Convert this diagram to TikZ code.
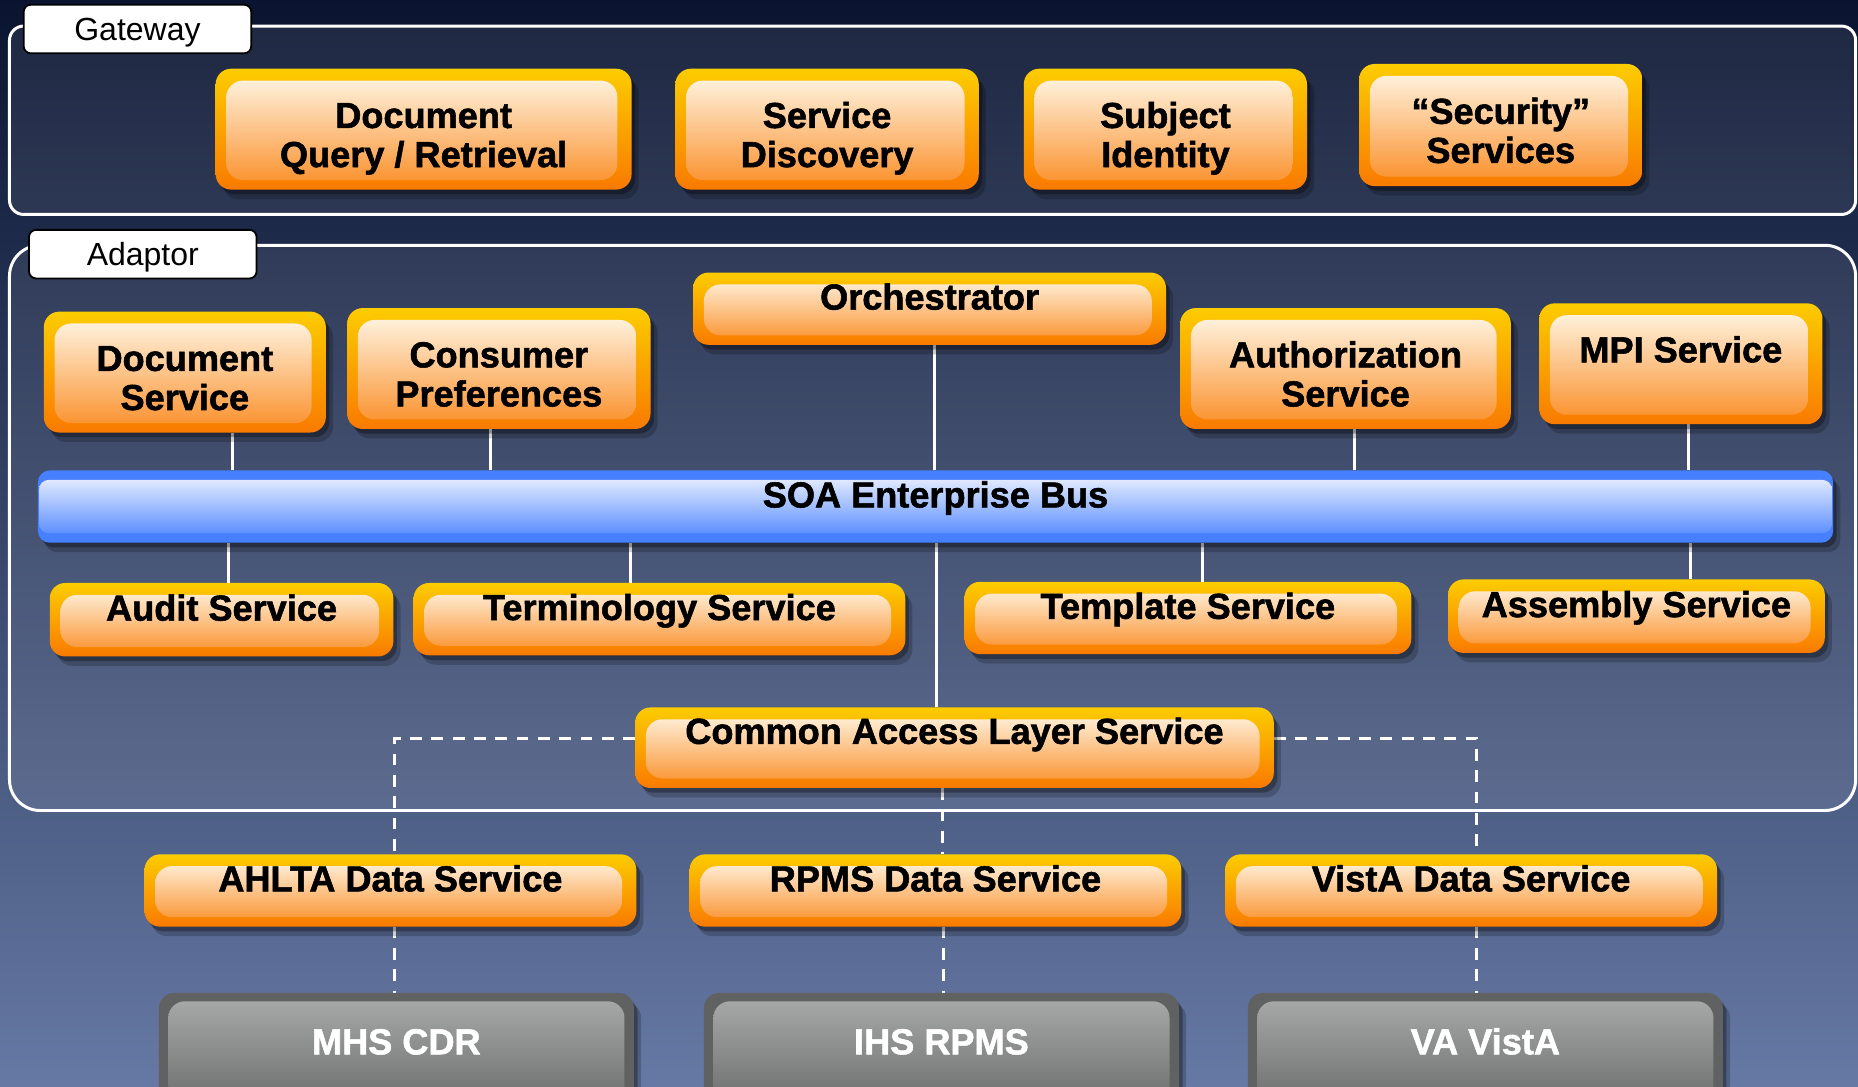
\documentclass[tikz,border=0pt]{standalone}
\usepackage{fontspec}
\setmainfont{Liberation Sans}[BoldFeatures={FakeBold=1.5}]
\usetikzlibrary{shadows}

\definecolor{navytop}{RGB}{10,20,48}
\definecolor{navymid}{RGB}{46,68,115}
\definecolor{navybot}{RGB}{102,121,164}
\definecolor{boxyellow}{RGB}{252,204,0}
\definecolor{boxorange}{RGB}{249,122,0}
\definecolor{glowtop}{RGB}{255,251,238}
\definecolor{glowmid}{RGB}{252,212,140}
\definecolor{glowbot}{RGB}{250,140,36}
\definecolor{busblue}{RGB}{70,128,255}
\definecolor{busglow}{RGB}{246,248,255}
\definecolor{legacydark}{RGB}{96,97,97}
\definecolor{legacytop}{RGB}{170,171,171}
\definecolor{legacybot}{RGB}{104,105,105}

\newcommand{\twolines}[2]{\rule{0pt}{31pt}#1\\\smash{#2}}

\pgfdeclarelayer{bg}
\pgfdeclarelayer{wires}
\pgfsetlayers{bg,wires,main}

\tikzset{
  svc/.style={rounded corners=13pt, inner sep=0pt, outer sep=0pt, align=center,
    font=\bfseries\fontsize{30.5}{33}\selectfont,
    drop shadow={shadow xshift=3pt, shadow yshift=-4pt, opacity=0.3, fill=black},
    drop shadow={shadow xshift=6pt, shadow yshift=-8pt, opacity=0.2, fill=black}},
  oneline/.style={text height=22pt, text depth=#1},
  oneline/.default=20.5pt,
  orangebox/.style={svc, top color=boxyellow, bottom color=boxorange,
    path picture={\shade[rounded corners=14pt, top color=glowtop, middle color=glowmid, bottom color=glowbot]
      ([xshift=9pt,yshift=8pt]path picture bounding box.south west) rectangle
      ([xshift=-12pt,yshift=-10pt]path picture bounding box.north east);}},
  legacybox/.style={svc, fill=legacydark, text=white,
    path picture={\shade[rounded corners=14pt, top color=legacytop, bottom color=legacybot]
      ([xshift=8pt,yshift=8pt]path picture bounding box.south west) rectangle
      ([xshift=-8pt,yshift=-7pt]path picture bounding box.north east);}},
  busbar/.style={svc, rounded corners=10pt, fill=busblue,
    path picture={\shade[rounded corners=8pt, top color=busglow, bottom color=busblue]
      ([xshift=1pt,yshift=8pt]path picture bounding box.south west) rectangle
      ([xshift=-1pt,yshift=-8pt]path picture bounding box.north east);}},
  frameline/.style={draw=white, line width=2.5pt, fill=white, fill opacity=0.08},
  tag/.style={draw=black, fill=white, line width=1.5pt, rounded corners=6pt,
    minimum width=192pt, minimum height=41pt, inner sep=0pt, text height=19pt, text depth=0pt,
    font=\fontsize{27}{30}\selectfont},
  wire/.style={draw=white, line width=2.5pt},
  link/.style={draw=white, line width=2.5pt, dash pattern=on 10pt off 8pt}
}

\begin{document}
\begin{tikzpicture}[x=1pt,y=-1pt]
	\path[use as bounding box, clip] (0,0) rectangle (1568,917);
	\begin{pgfonlayer}{bg}
		\shade[top color=navytop, middle color=navymid, bottom color=navybot] (0,0) rectangle (1568,917);
	\end{pgfonlayer}
	
	\draw[frameline, rounded corners=12pt] (8,22) rectangle (1566,181);
	\node[tag] (gwtag) at (116,24.5) {Gateway};
	
	\draw[frameline, rounded corners=26pt] (8,207) rectangle (1566,684);
	\node[tag] (adtag) at (120.5,214.5) {Adaptor};
	
	\node[orangebox, minimum width=351pt, minimum height=102pt] (query) at (357.5,109) {\twolines{Document}{Query / Retrieval}};
	\node[orangebox, minimum width=256pt, minimum height=102pt] (disc) at (698,109) {\twolines{Service}{Discovery}};
	\node[orangebox, minimum width=239pt, minimum height=102pt] (ident) at (983.5,109) {\twolines{Subject}{Identity}};
	\node[orangebox, minimum width=239pt, minimum height=103pt] (secur) at (1266.5,105.5) {\twolines{``Security''}{Services}};
	
	\node[orangebox, minimum width=238pt, minimum height=102pt] (docsvc) at (156,314) {\twolines{Document}{Service}};
	\node[orangebox, minimum width=256pt, minimum height=102pt] (conpref) at (421,311) {\twolines{Consumer}{Preferences}};
	\node[orangebox, oneline, minimum width=399pt, minimum height=61pt] (orch) at (784.5,260.5) {Orchestrator};
	\node[orangebox, minimum width=279pt, minimum height=102pt] (authz) at (1135.5,311) {\twolines{Authorization}{Service}};
	\node[orangebox, oneline=24.5pt, minimum width=239pt, minimum height=102pt] (mpi) at (1418.5,307) {MPI Service};
	
	\node[busbar, oneline, minimum width=1515pt, minimum height=61pt] (bus) at (789.5,427.5) {SOA Enterprise Bus};
	
	\node[orangebox, oneline, minimum width=290pt, minimum height=62pt] (audit) at (187,523) {Audit Service};
	\node[orangebox, oneline, minimum width=415pt, minimum height=61pt] (term) at (556.5,522.5) {Terminology Service};
	\node[orangebox, oneline, minimum width=377pt, minimum height=61pt] (templ) at (1002.5,521.5) {Template Service};
	\node[orangebox, oneline, minimum width=318pt, minimum height=62pt] (assem) at (1381,520) {Assembly Service};
	
	\node[orangebox, oneline=28.5pt, minimum width=539pt, minimum height=68pt] (cal) at (805.5,631) {Common Access Layer Service};
	
	\node[orangebox, oneline, minimum width=415pt, minimum height=61pt] (ahlta) at (329.5,751.5) {AHLTA Data Service};
	\node[orangebox, oneline, minimum width=415pt, minimum height=61pt] (rpms) at (789.5,751.5) {RPMS Data Service};
	\node[orangebox, oneline, minimum width=415pt, minimum height=61pt] (vista) at (1241.5,751.5) {VistA Data Service};
	
	\node[legacybox, oneline, minimum width=401pt, minimum height=102pt] (mhs) at (334.5,889) {MHS CDR};
	\node[legacybox, oneline, minimum width=401pt, minimum height=102pt] (ihs) at (794.5,889) {IHS RPMS};
	\node[legacybox, oneline, minimum width=401pt, minimum height=102pt] (vava) at (1253.5,889) {VA VistA};
	
	\begin{pgfonlayer}{wires}
		\draw[wire] ([xshift=40pt]docsvc.south) -- ([xshift=40pt]docsvc.south |- bus.north);
		\draw[wire] ([xshift=-7pt]conpref.south) -- ([xshift=-7pt]conpref.south |- bus.north);
		\draw[wire] ([xshift=4.5pt]orch.south) -- ([xshift=4.5pt]orch.south |- bus.north);
		\draw[wire] ([xshift=7.5pt]authz.south) -- ([xshift=7.5pt]authz.south |- bus.north);
		\draw[wire] ([xshift=6.5pt]mpi.south) -- ([xshift=6.5pt]mpi.south |- bus.north);
		
		\draw[wire] ([xshift=6pt]audit.north) -- ([xshift=6pt]audit.north |- bus.south);
		\draw[wire] ([xshift=-24.5pt]term.north) -- ([xshift=-24.5pt]term.north |- bus.south);
		\draw[wire] ([xshift=12.5pt]templ.north) -- ([xshift=12.5pt]templ.north |- bus.south);
		\draw[wire] ([xshift=46pt]assem.north) -- ([xshift=46pt]assem.north |- bus.south);
		\draw[wire] ([xshift=-15.5pt]cal.north) -- ([xshift=-15.5pt]cal.north |- bus.south);
		
		\draw[link] ([xshift=-10.5pt]cal.south) -- ([xshift=-10.5pt]cal.south |- rpms.north);
		\draw[link] ([yshift=8pt]cal.west) -| ([xshift=3.5pt]ahlta.north);
		\draw[link] ([yshift=8pt]cal.east) -| ([xshift=4.5pt]vista.north);
		
		\draw[link] ([xshift=3.5pt]ahlta.south) -- ([xshift=3.5pt]ahlta.south |- mhs.north);
		\draw[link] ([xshift=6.5pt]rpms.south) -- ([xshift=6.5pt]rpms.south |- ihs.north);
		\draw[link] ([xshift=4.5pt]vista.south) -- ([xshift=4.5pt]vista.south |- vava.north);
	\end{pgfonlayer}
	
\end{tikzpicture}
\end{document}
